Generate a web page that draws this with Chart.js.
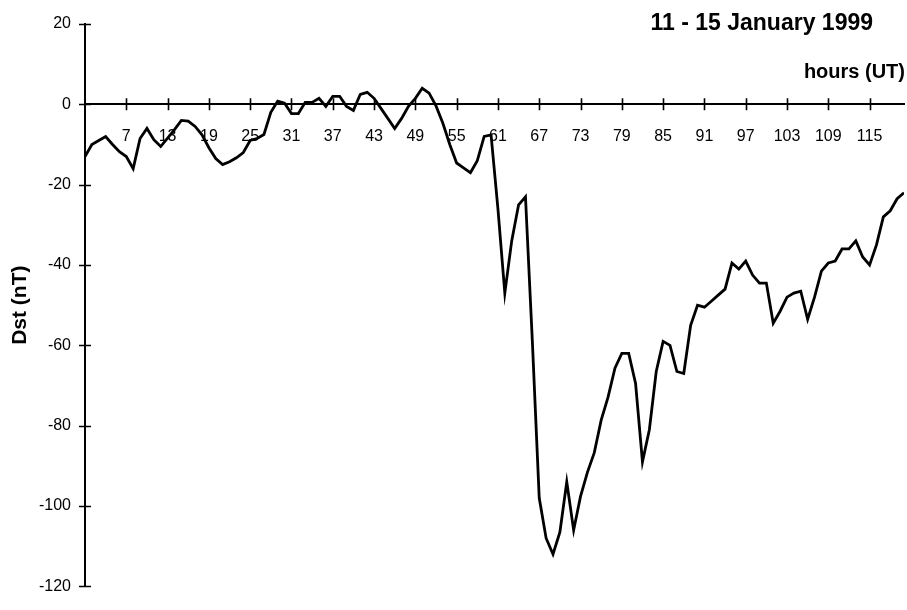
<!DOCTYPE html>
<html><head><meta charset="utf-8">
<script src="https://cdn.jsdelivr.net/npm/chart.js@4.4.1/dist/chart.umd.min.js"></script>
<style>html,body{margin:0;padding:0;background:#fff;}#wrap{width:907px;height:610px;}</style>
</head><body><div id="wrap"><canvas id="c" width="907" height="610"></canvas></div>
<script>
const hours = [1,2,3,4,5,6,7,8,9,10,11,12,13,14,15,16,17,18,19,20,
  21,22,23,24,25,26,27,28,29,30,31,32,33,34,35,36,37,38,39,40,
  41,42,43,44,45,46,47,48,49,50,51,52,53,54,55,56,57,58,59,60,
  61,62,63,64,65,66,67,68,69,70,71,72,73,74,75,76,77,78,79,80,
  81,82,83,84,85,86,87,88,89,90,91,92,93,94,95,96,97,98,99,100,
  101,102,103,104,105,106,107,108,109,110,111,112,113,114,115,116,117,118,119,120];
const dst = [-13,-10,-9,-8,-10,-11.8,-13,-16,-8.5,-6,
  -8.8,-10.5,-8.4,-6.3,-4,-4.2,-5.5,-7.6,-10.8,-13.5,
  -15,-14.3,-13.3,-12,-9,-8.5,-7.5,-2,0.8,0.3,
  -2.3,-2.3,0.5,0.5,1.5,-0.5,2,2,-0.5,-1.5,
  2.5,3,1.5,-1,-3.5,-6,-3.5,-0.5,1.5,4,
  2.8,-0.4,-4.7,-10,-14.6,-15.8,-17,-14,-8,-7.6,
  -26,-47,-34,-25,-23,-59,-98,-108,-112,-106.5,
  -94,-106,-97.6,-91.6,-86.7,-78.6,-72.9,-65.7,-62,-62,
  -69.5,-89,-81,-66.5,-59,-60,-66.5,-67,-55,-50,
  -50.5,-49,-47.5,-46,-39.5,-41,-39,-42.5,-44.5,-44.5,
  -54.5,-51.5,-48,-47,-46.5,-53.5,-48,-41.5,-39.5,-39,
  -36,-36,-34,-38,-40,-35,-28,-26.5,-23.5,-22];
const xTickValues = [7,13,19,25,31,37,43,49,55,61,67,73,79,85,91,97,103,109,115];
const yTickValues = [20,0,-20,-40,-60,-80,-100,-120];
const titleText = '11 - 15 January 1999';
const xAxisTitle = 'hours (UT)';
const yAxisTitle = 'Dst (nT)';

const FONT = "'Liberation Sans', Arial, sans-serif";

const crossTicks = {
  id: 'crossTicks',
  afterDraw(chart) {
    const ctx = chart.ctx;
    const xs = chart.scales.x, ys = chart.scales.y;
    const axisX = xs.getPixelForValue(1);
    const axisY = ys.getPixelForValue(0);
    ctx.save();
    ctx.strokeStyle = '#000';
    ctx.lineWidth = 1.6;
    ctx.beginPath();
    yTickValues.forEach(v => {
      const py = Math.round(ys.getPixelForValue(v)) + 0.5;
      ctx.moveTo(axisX - 6, py); ctx.lineTo(axisX + 6, py);
    });
    xTickValues.forEach(v => {
      const px = Math.round(xs.getPixelForValue(v)) + 0.5;
      ctx.moveTo(px, axisY - 6); ctx.lineTo(px, axisY + 6);
    });
    ctx.stroke();
    ctx.fillStyle = '#000';
    ctx.textAlign = 'right';
    ctx.textBaseline = 'middle';
    ctx.font = "bold 23px " + FONT;
    ctx.fillText(titleText, 873, 24);
    ctx.font = "bold 20px " + FONT;
    ctx.fillText(xAxisTitle, 905, 72);
    ctx.restore();
  }
};

new Chart(document.getElementById('c'), {
  type: 'line',
  data: {
    datasets: [{
      data: dst.map((v, i) => ({x: hours[i], y: v})),
      borderColor: '#000',
      borderWidth: 2.8,
      pointRadius: 0,
      tension: 0,
      fill: false
    }]
  },
  options: {
    responsive: false,
    animation: false,
    devicePixelRatio: 1,
    layout: {padding: {left: 0, right: 3, top: 24, bottom: 9}},
    plugins: {legend: {display: false}, tooltip: {enabled: false}, title: {display: false}},
    scales: {
      x: {
        type: 'linear',
        min: 1, max: 120,
        position: {y: 0},
        afterBuildTicks: s => { s.ticks = xTickValues.map(v => ({value: v})); },
        afterFit: s => { s.height = 0; },
        grid: {display: false, drawTicks: false},
        border: {display: true, color: '#000', width: 2},
        ticks: {color: '#000', font: {family: FONT, size: 16}, padding: 23, maxRotation: 0, autoSkip: false}
      },
      y: {
        type: 'linear',
        min: -120, max: 20,
        afterBuildTicks: s => { s.ticks = yTickValues.map(v => ({value: v})); },
        afterFit: s => { s.width = 85; },
        grid: {display: false, drawTicks: false},
        border: {display: true, color: '#000', width: 2},
        ticks: {color: '#000', font: {family: FONT, size: 16}, padding: 14},
        title: {display: true, text: yAxisTitle, color: '#000', font: {family: FONT, size: 21, weight: 'bold'}, padding: {top: 8, bottom: 0}}
      }
    }
  },
  plugins: [crossTicks]
});
</script>
</body></html>
